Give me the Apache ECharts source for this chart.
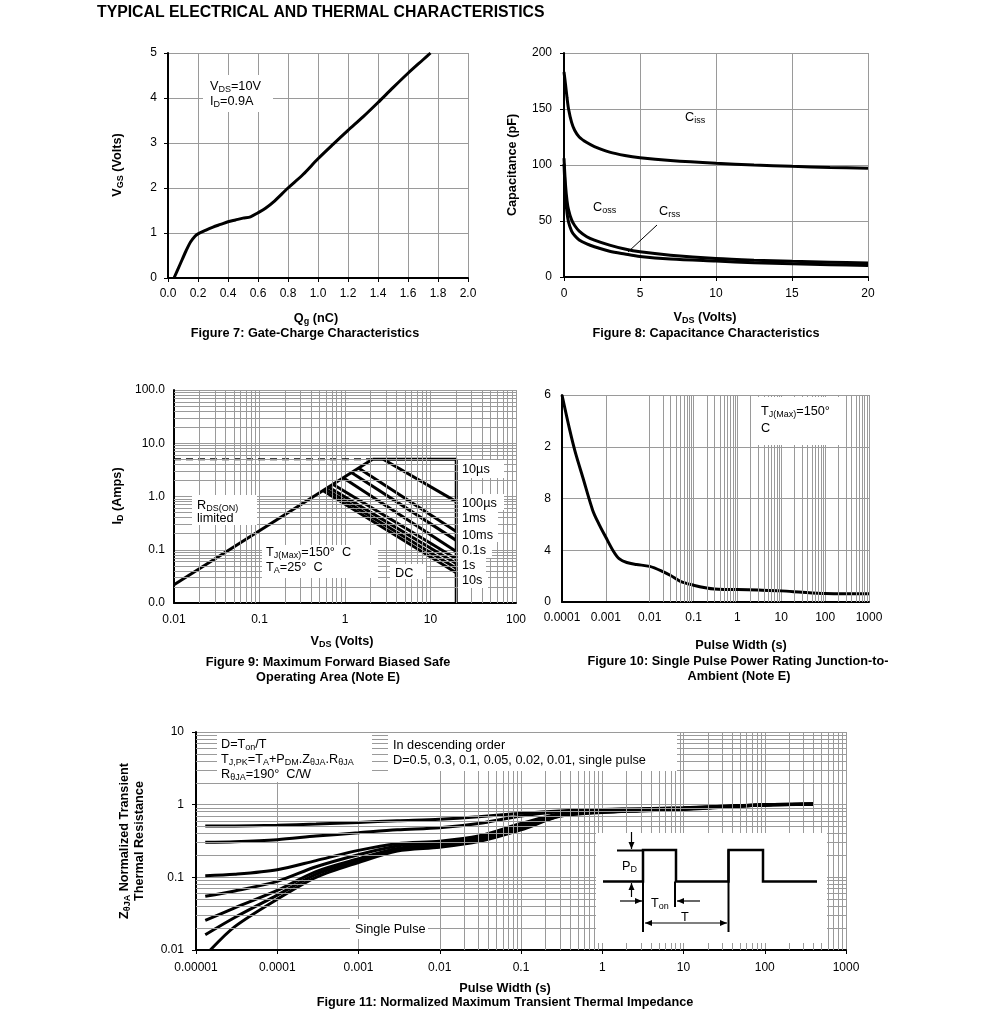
<!DOCTYPE html>
<html><head><meta charset="utf-8">
<script src="https://cdn.jsdelivr.net/npm/echarts@6/dist/echarts.min.js"></script>
<style>html,body{margin:0;padding:0;background:#fff}#c{width:991px;height:1024px}</style>
</head><body><div id="c"></div>
<script>
// ================= DATA =================
// Figure 7: Gate charge
const fig7Qg  = [0.04,0.08,0.12,0.15,0.18,0.2,0.25,0.3,0.35,0.4,0.45,0.5,0.55,0.6,0.65,0.7,0.8,0.9,1.0,1.1,1.2,1.3,1.4,1.5,1.6,1.7,1.75];
const fig7Vgs = [0,0.3,0.6,0.8,0.93,0.98,1.06,1.13,1.19,1.25,1.29,1.33,1.36,1.45,1.55,1.68,2.0,2.3,2.65,2.97,3.28,3.58,3.9,4.23,4.55,4.85,5.0];
const fig7XTickLabels = ['0.0','0.2','0.4','0.6','0.8','1.0','1.2','1.4','1.6','1.8','2.0'];
const fig7YTickLabels = ['0','1','2','3','4','5'];

// Figure 8: Capacitance
const fig8Vds  = [0,0.1,0.2,0.3,0.5,0.7,1,1.5,2,3,4,5,7,10,12.5,15,17.5,20];
const fig8Ciss = [183,172,160,150,138,131,125,120,116.5,111.5,108.5,106.5,104,101.5,100,98.8,97.8,97];
const fig8Coss = [106,82,68,60,51,46,41,36,33,28.5,25,22.5,19.5,16.5,15,14,13.2,12.5];
const fig8Crss = [101,72,57,49,41,37,33,29.5,27,23,20.5,18.3,16,14.2,12.8,11.8,11,10.3];
const fig8XTickLabels = ['0','5','10','15','20'];
const fig8YTickLabels = ['0','50','100','150','200'];

// Figure 9: Safe operating area
const soaRdsV = [0.01, 2.1];
const soaRdsI = [0.022, 5];
const soaCurrentLimit = 5;
const soaVdsMax = 20;
const soaMinI = 0.01;
const soaPulseNames  = ['10µs','100µs','1ms','10ms','0.1s','1s','10s','DC'];
const soaPulseStartV = [2.8, 1.45, 1.2, 0.95, 0.72, 0.64, 0.59, 0.55];
const soaPulseStartI = [5, 3.4, 2.8, 2.25, 1.7, 1.5, 1.38, 1.3];
const soaPulseEndI   = [0.8, 0.22, 0.15, 0.093, 0.068, 0.055, 0.045, 0.037];
const fig9XTickLabels = ['0.01','0.1','1','10','100'];
const fig9YTickLabels = ['0.0','0.1','1.0','10.0','100.0'];

// Figure 10: Single pulse power
const fig10T = [0.0001,0.00015,0.0002,0.0003,0.0005,0.0007,0.001,0.0015,0.002,0.003,0.005,0.01,0.02,0.03,0.05,0.1,0.2,0.3,0.5,1,3,10,30,100,300,1000];
const fig10P = [16,13.3,11.6,9.6,7.1,6.0,5.0,3.9,3.35,3.05,2.9,2.75,2.35,2.05,1.6,1.3,1.08,1.0,0.97,0.96,0.92,0.86,0.75,0.65,0.63,0.63];
const fig10XTickLabels = ['0.0001','0.001','0.01','0.1','1','10','100','1000'];
const fig10YTickLabels = ['0','4','8','2','6'];

// Figure 11: Transient thermal impedance
const fig11T    = [1.3e-5,3e-5,1e-4,3e-4,1e-3,3e-3,1e-2,3e-2,0.1,0.3,1,3,10,30,100,400];
const fig11D050 = [0.51,0.51,0.52,0.54,0.57,0.6,0.63,0.68,0.76,0.82,0.86,0.88,0.91,0.95,1.0,1.02];
const fig11D030 = [0.305,0.31,0.33,0.37,0.41,0.45,0.48,0.55,0.70,0.80,0.85,0.87,0.9,0.95,1.0,1.02];
const fig11D010 = [0.105,0.11,0.127,0.17,0.235,0.29,0.315,0.37,0.55,0.75,0.82,0.85,0.89,0.94,1.0,1.02];
const fig11D005 = [0.055,0.065,0.088,0.14,0.205,0.27,0.3,0.35,0.52,0.73,0.81,0.84,0.88,0.94,0.99,1.01];
const fig11D002 = [0.0255,0.038,0.066,0.12,0.18,0.25,0.28,0.33,0.49,0.71,0.8,0.83,0.87,0.93,0.99,1.01];
const fig11D001 = [0.0162,0.028,0.057,0.11,0.17,0.24,0.27,0.32,0.47,0.7,0.79,0.83,0.87,0.93,0.99,1.01];
const fig11SingleT = [1.5e-5,3e-5,1e-4,3e-4,1e-3,3e-3,1e-2,3e-2,0.1,0.3,1,3,10,30,100,400];
const fig11Single  = [0.01,0.021,0.05,0.1,0.16,0.23,0.26,0.31,0.45,0.69,0.78,0.82,0.86,0.92,0.99,1.01];
const fig11XTickLabels = ['0.00001','0.0001','0.001','0.01','0.1','1','10','100','1000'];
const fig11YTickLabels = ['0.01','0.1','1','10'];

// ================= BUILD =================
const FONT = '"Liberation Sans", Arial, Helvetica, sans-serif';
const GRID = '#9a9a9a';
const zip = (a, b) => a.map((v, i) => [v, b[i]]);
const logLab = (labels, minExp) => v => labels[Math.round(Math.log10(v)) - minExp];
const minorLog = (minExp, maxExp) => { const o = []; for (let e = minExp; e < maxExp; e++) for (let k = 2; k <= 9; k++) o.push(k * Math.pow(10, e)); return o; };

const labelStyle = (margin, formatter) => ({ show: true, margin, color: '#000', fontSize: 12, fontFamily: FONT, formatter, interval: 0, showMinLabel: true, showMaxLabel: true });
const axLine = { show: true, onZero: false, lineStyle: { color: '#000', width: 2 } };
const split = { show: true, lineStyle: { color: GRID, width: 1 } };
const tickOn = { show: true, length: 4, lineStyle: { color: '#000', width: 1 } };
const tickOff = { show: false };

const curve = (gi, data, w, extra) => Object.assign({ type: 'line', xAxisIndex: gi, yAxisIndex: gi, data, symbol: 'none', showSymbol: false, silent: true, z: 3, lineStyle: { color: '#000', width: w || 3 } }, extra || {});

function gridSeries(gi, xVals, yVals, corner) {
  return { type: 'line', xAxisIndex: gi, yAxisIndex: gi, data: [corner], symbol: 'none', showSymbol: false, lineStyle: { opacity: 0 }, silent: true, z: 1,
    markLine: { silent: true, animation: false, symbol: ['none', 'none'], label: { show: false }, lineStyle: { color: GRID, width: 1, type: 'solid' }, emphasis: { disabled: true },
      data: [...xVals.map(v => ({ xAxis: v })), ...yVals.map(v => ({ yAxis: v }))] } };
}

// graphic helpers
const SUB = (size, bold) => ({ fontSize: Math.round(size * 0.68), fontFamily: FONT, fontWeight: bold ? 'bold' : 'normal', fill: '#000', verticalAlign: 'bottom', lineHeight: Math.round(size * 0.55) });
function T(x, y, text, o) {
  o = o || {};
  const size = o.size || 12.7, bold = !!o.bold;
  return { type: 'text', x, y, rotation: o.rot || 0, z: 100, silent: true,
    style: { text, x: 0, y: 0, fill: '#000', fontSize: size, fontFamily: FONT, fontWeight: bold ? 'bold' : 'normal', align: o.align || 'left', verticalAlign: 'middle', lineHeight: size + 3, rich: { s: SUB(size, bold) } } };
}
const B = (x, y, w, h) => ({ type: 'rect', z: 99, silent: true, shape: { x, y, width: w, height: h }, style: { fill: '#fff' } });
const L = (pts, w) => ({ type: 'polyline', z: 100, silent: true, shape: { points: pts }, style: { stroke: '#000', lineWidth: w || 1, fill: null } });
function head(x1, y1, x2, y2) {
  const dx = x2 - x1, dy = y2 - y1, len = Math.hypot(dx, dy), ux = dx / len, uy = dy / len;
  const bx = x2 - ux * 7, by = y2 - uy * 7, px = -uy * 3, py = ux * 3;
  return { type: 'polygon', z: 101, silent: true, shape: { points: [[x2, y2], [bx + px, by + py], [bx - px, by - py]] }, style: { fill: '#000' } };
}
const arrow = (x1, y1, x2, y2) => [L([[x1, y1], [x2, y2]], 1.2), head(x1, y1, x2, y2)];

const graphics = [
  T(97, 13, 'TYPICAL ELECTRICAL AND THERMAL CHARACTERISTICS', { bold: true, size: 15.8 }),
  // Fig 7
  T(117, 165, 'V{s|GS} (Volts)', { bold: true, rot: Math.PI / 2, align: 'center' }),
  T(316, 318, 'Q{s|g} (nC)', { bold: true, align: 'center' }),
  T(305, 333, 'Figure 7: Gate-Charge Characteristics', { bold: true, align: 'center' }),
  B(203, 75, 70, 37), T(210, 86, 'V{s|DS}=10V'), T(210, 101, 'I{s|D}=0.9A'),
  // Fig 8
  T(512, 165, 'Capacitance (pF)', { bold: true, rot: Math.PI / 2, align: 'center' }),
  T(705, 317, 'V{s|DS} (Volts)', { bold: true, align: 'center' }),
  T(706, 333, 'Figure 8: Capacitance Characteristics', { bold: true, align: 'center' }),
  T(685, 117, 'C{s|iss}'), T(593, 207, 'C{s|oss}'), T(659, 211, 'C{s|rss}'),
  L([[657, 225], [628, 252]], 1),
  // Fig 9
  T(117, 496, 'I{s|D} (Amps)', { bold: true, rot: Math.PI / 2, align: 'center' }),
  T(342, 641, 'V{s|DS} (Volts)', { bold: true, align: 'center' }),
  T(328, 662, 'Figure 9: Maximum Forward Biased Safe', { bold: true, align: 'center' }),
  T(328, 677, 'Operating Area (Note E)', { bold: true, align: 'center' }),
  B(192, 495, 65, 30), T(197, 505, 'R{s|DS(ON)}'), T(197, 518.5, 'limited'),
  B(262, 545, 116, 33), T(266, 552, 'T{s|J(Max)}=150°  C'), T(266, 567, 'T{s|A}=25°  C'),
  B(390, 564, 36, 15), T(395, 573, 'DC'),
  B(458, 460, 46, 18), T(462, 469, '10µs'),
  B(458, 494, 46, 16), T(462, 503, '100µs'),
  B(458, 510, 40, 16), T(462, 518.5, '1ms'),
  B(458, 526, 40, 16), T(462, 535, '10ms'),
  B(458, 542, 34, 16), T(462, 550.5, '0.1s'),
  B(458, 557, 28, 16), T(462, 565.5, '1s'),
  B(458, 572, 30, 16), T(462, 580, '10s'),
  // Fig 10
  T(741, 645, 'Pulse Width (s)', { bold: true, align: 'center' }),
  T(738, 661, 'Figure 10: Single Pulse Power Rating Junction-to-', { bold: true, align: 'center' }),
  T(739, 676, 'Ambient (Note E)', { bold: true, align: 'center' }),
  B(757, 397, 88, 48), T(761, 411.5, 'T{s|J(Max)}=150°'), T(761, 428, 'C'),
  // Fig 11
  T(124, 841, 'Z{s|θJA} Normalized Transient', { bold: true, rot: Math.PI / 2, align: 'center' }),
  T(139, 841, 'Thermal Resistance', { bold: true, rot: Math.PI / 2, align: 'center' }),
  T(505, 988, 'Pulse Width (s)', { bold: true, align: 'center' }),
  T(505, 1002, 'Figure 11: Normalized Maximum Transient Thermal Impedance', { bold: true, align: 'center' }),
  B(217, 733, 155, 49), T(221, 744, 'D=T{s|on}/T'), T(221, 759, 'T{s|J,PK}=T{s|A}+P{s|DM}.Z{s|θJA}.R{s|θJA}'), T(221, 774, 'R{s|θJA}=190°  C/W'),
  B(388, 733, 289, 38), T(393, 745, 'In descending order'), T(393, 760, 'D=0.5, 0.3, 0.1, 0.05, 0.02, 0.01, single pulse'),
  B(350, 919, 78, 20), T(355, 929, 'Single Pulse'),
  // inset
  B(596, 833, 231, 110),
  L([[603, 881.5], [643, 881.5], [643, 850], [676, 850], [676, 881.5], [728.5, 881.5], [728.5, 850], [763, 850], [763, 881.5], [817, 881.5]], 2.5),
  L([[643, 850], [643, 932]], 2), L([[675, 881.5], [675, 907]], 2), L([[728.5, 850], [728.5, 932]], 2),
  L([[617, 850.5], [643, 850.5]], 2),
  ...arrow(631.5, 832, 631.5, 849), ...arrow(631.5, 897, 631.5, 883),
  ...arrow(620, 901, 642, 901), ...arrow(700, 901, 677, 901),
  ...arrow(686, 923, 645, 923), ...arrow(686, 923, 727, 923),
  T(622, 866, 'P{s|D}'), T(651, 903.5, 'T{s|on}'), T(681, 917, 'T')
];

const series = [
  // Fig 7
  curve(0, zip(fig7Qg, fig7Vgs), 3, { smooth: 0.3 }),
  // Fig 8
  curve(1, zip(fig8Vds, fig8Ciss), 3, { smooth: 0.3 }),
  curve(1, zip(fig8Vds, fig8Coss), 3, { smooth: 0.3 }),
  curve(1, zip(fig8Vds, fig8Crss), 3, { smooth: 0.3 }),
  // Fig 9
  gridSeries(2, minorLog(-2, 2), minorLog(-2, 2), [0.01, 0.01]),
  curve(2, [[soaRdsV[0], soaCurrentLimit], [soaRdsV[1], soaCurrentLimit]], 2, { lineStyle: { color: '#000', width: 2, type: [7, 5] } }),
  curve(2, zip(soaRdsV, soaRdsI), 3),
  curve(2, [[soaRdsV[1], soaCurrentLimit], [soaVdsMax, soaCurrentLimit], [soaVdsMax, soaMinI]], 3),
  ...soaPulseNames.map((n, i) => curve(2, [[soaPulseStartV[i], soaPulseStartI[i]], [soaVdsMax, soaPulseEndI[i]]], 3, { name: n })),
  // Fig 10
  gridSeries(3, minorLog(-4, 3), [], [0.0001, 0]),
  curve(3, zip(fig10T, fig10P), 3, { smooth: 0.3 }),
  // Fig 11
  gridSeries(4, minorLog(-5, 3), minorLog(-2, 1), [0.00001, 0.01]),
  ...[fig11D050, fig11D030, fig11D010, fig11D005, fig11D002, fig11D001].map(d => curve(4, zip(fig11T, d), 3, { smooth: 0.3 })),
  curve(4, zip(fig11SingleT, fig11Single), 3, { smooth: 0.3 })
];

const option = {
  animation: false,
  backgroundColor: '#fff',
  grid: [
    { left: 168, top: 53, width: 300, height: 225, outerBoundsMode: 'none' },
    { left: 564, top: 53, width: 304, height: 224, outerBoundsMode: 'none' },
    { left: 174, top: 390, width: 342, height: 213, outerBoundsMode: 'none' },
    { left: 562, top: 395, width: 307, height: 207, outerBoundsMode: 'none' },
    { left: 196, top: 732, width: 650, height: 218, outerBoundsMode: 'none' }
  ],
  xAxis: [
    { gridIndex: 0, type: 'value', min: 0, max: 2, interval: 0.2, axisLine: axLine, axisTick: tickOn, splitLine: split, axisLabel: labelStyle(10, v => fig7XTickLabels[Math.round(v / 0.2)]) },
    { gridIndex: 1, type: 'value', min: 0, max: 20, interval: 5, axisLine: axLine, axisTick: tickOn, splitLine: split, axisLabel: labelStyle(11, v => fig8XTickLabels[Math.round(v / 5)]) },
    { gridIndex: 2, type: 'log', logBase: 10, min: 0.01, max: 100, axisLine: axLine, axisTick: tickOff, splitLine: split, axisLabel: labelStyle(11, logLab(fig9XTickLabels, -2)) },
    { gridIndex: 3, type: 'log', logBase: 10, min: 0.0001, max: 1000, axisLine: axLine, axisTick: tickOff, splitLine: split, axisLabel: labelStyle(10, logLab(fig10XTickLabels, -4)) },
    { gridIndex: 4, type: 'log', logBase: 10, min: 0.00001, max: 1000, axisLine: axLine, axisTick: tickOn, splitLine: split, axisLabel: labelStyle(12, logLab(fig11XTickLabels, -5)) }
  ],
  yAxis: [
    { gridIndex: 0, type: 'value', min: 0, max: 5, interval: 1, axisLine: axLine, axisTick: tickOn, splitLine: split, axisLabel: labelStyle(11, v => fig7YTickLabels[Math.round(v)]) },
    { gridIndex: 1, type: 'value', min: 0, max: 200, interval: 50, axisLine: axLine, axisTick: tickOn, splitLine: split, axisLabel: labelStyle(12, v => fig8YTickLabels[Math.round(v / 50)]) },
    { gridIndex: 2, type: 'log', logBase: 10, min: 0.01, max: 100, axisLine: axLine, axisTick: tickOff, splitLine: split, axisLabel: labelStyle(9, logLab(fig9YTickLabels, -2)) },
    { gridIndex: 3, type: 'value', min: 0, max: 16, interval: 4, axisLine: axLine, axisTick: tickOff, splitLine: split, axisLabel: labelStyle(11, v => fig10YTickLabels[Math.round(v / 4)]) },
    { gridIndex: 4, type: 'log', logBase: 10, min: 0.01, max: 10, axisLine: axLine, axisTick: tickOn, splitLine: split, axisLabel: labelStyle(12, logLab(fig11YTickLabels, -2)) }
  ],
  graphic: { elements: graphics },
  series
};

const chart = echarts.init(document.getElementById('c'), null, { renderer: 'canvas' });
chart.setOption(option);
</script></body></html>
